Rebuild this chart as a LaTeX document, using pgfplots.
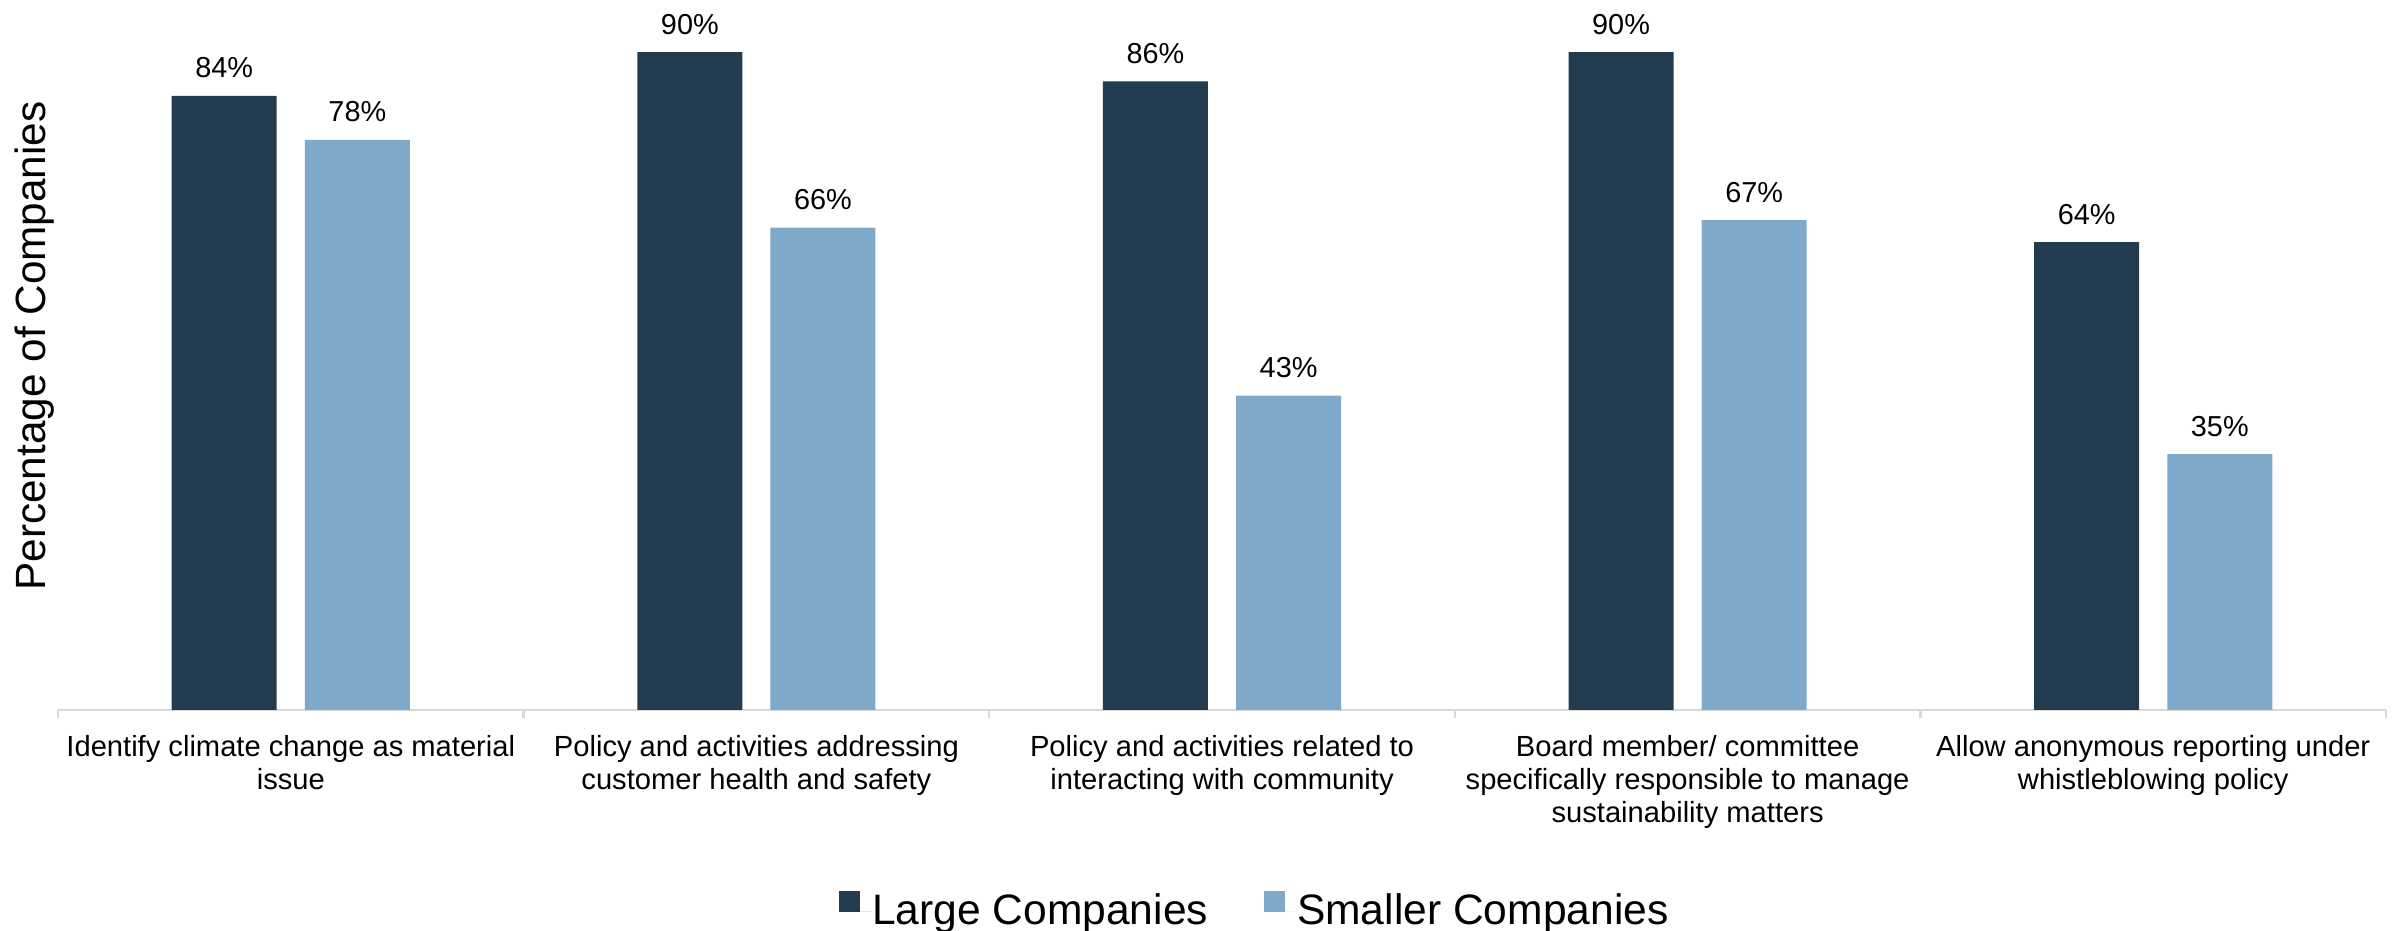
\documentclass[border=0pt]{standalone}
\usepackage{pgfplots}
\pgfplotsset{compat=1.18}
\usepackage{fontspec}
\setmainfont{Liberation Sans}

\definecolor{darkbar}{RGB}{34,59,79}
\definecolor{lightbar}{RGB}{127,169,203}
\definecolor{axisgray}{RGB}{217,217,217}

\begin{document}
\begin{tikzpicture}
\path[use as bounding box] (0pt,0pt) rectangle (840pt,325.85pt);
\begin{axis}[
	at={(20.3pt,77.35pt)}, anchor=south west,
	scale only axis,
	width=814.8pt, height=243.06pt,
	xmin=-0.5, xmax=4.5,
	ymin=0, ymax=95,
	ybar,
	hide y axis,
	axis x line*=bottom,
	x axis line style={-, draw=axisgray, line width=0.8pt},
	tick align=outside,
	xtick={0,1,2,3,4},
	major tick length=0pt,
	major x tick style={draw=none},
	minor xtick={-0.5,0.5,1.5,2.5,3.5,4.5},
	minor tick length=2.8pt,
	minor x tick style={draw=axisgray, line width=0.8pt},
	xticklabels={
		{Identify climate change as material\\issue},
		{Policy and activities addressing\\customer health and safety},
		{Policy and activities related to\\interacting with community},
		{Board member/ committee\\specifically responsible to manage\\sustainability matters},
		{Allow anonymous reporting under\\whistleblowing policy}},
	xticklabel style={font=\fontsize{10.2}{11.6}\selectfont, align=center,
		inner sep=0pt, anchor=north, yshift=-8.6pt},
	nodes near coords,
	every node near coord/.append style={font=\fontsize{10.1}{12}\selectfont,
		anchor=base, inner sep=0pt, yshift=6.3pt, text=black},
	legend columns=2,
	legend image code/.code={
		\fill[#1, draw=none] (0pt,0pt) rectangle (7.35pt,7.35pt);
		\path (0pt,0pt) -- (11.55pt,0pt);
	},
	legend style={at={(0.3355,-0.288)}, anchor=west, draw=none, fill=none,
		inner sep=0pt, outer sep=0pt,
		font=\fontsize{14.9}{17}\selectfont,
		nodes={inner sep=0pt},
		/tikz/every even column/.append style={column sep=19.6pt}},
]
\addplot[fill=darkbar, draw=none, bar width=36.75pt, bar shift=-23.3pt,
	point meta=explicit symbolic]
	coordinates {(0,84) [84\%] (1,90) [90\%] (2,86) [86\%] (3,90) [90\%] (4,64) [64\%]};
\addlegendentry{Large Companies}
\addplot[fill=lightbar, draw=none, bar width=36.75pt, bar shift=23.3pt,
	point meta=explicit symbolic]
	coordinates {(0,78) [78\%] (1,66) [66\%] (2,43) [43\%] (3,67) [67\%] (4,35) [35\%]};
\addlegendentry{Smaller Companies}
\end{axis}
\node[rotate=90, anchor=base, inner sep=0pt, font=\fontsize{14.8}{17}\selectfont]
	at (15.75pt,204.75pt) {Percentage of Companies};
\end{tikzpicture}
\end{document}
